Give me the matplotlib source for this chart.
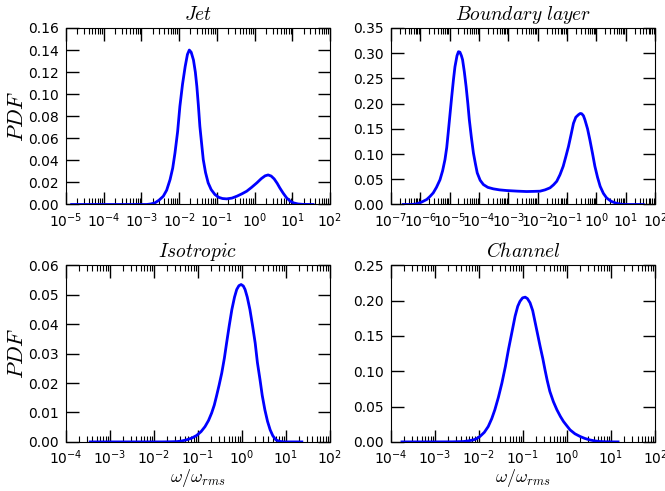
import numpy as np
import matplotlib
matplotlib.use('Agg')
import matplotlib.pyplot as plt
from matplotlib.ticker import LogLocator, FormatStrFormatter, MultipleLocator

# values (x given as log10 of omega/omega_rms)
jet_logx = [-4.85, -4.0, -3.5, -2.86, -2.75, -2.64, -2.53, -2.42, -2.33, -2.24,
            -2.17, -2.11, -2.04, -1.98, -1.91, -1.84, -1.78, -1.73, -1.68, -1.62,
            -1.57, -1.53, -1.49, -1.45, -1.40, -1.36, -1.30, -1.23, -1.15, -1.05,
            -0.95, -0.85, -0.74, -0.60, -0.47, -0.34, -0.21, -0.08, 0.06, 0.18,
            0.28, 0.36, 0.44, 0.52, 0.60, 0.67, 0.76, 0.85, 0.94, 1.03,
            1.15, 1.29, 1.55]
jet_pdf = [0.0, 0.0, 0.0, 0.0, 0.0005, 0.0015, 0.004, 0.0075, 0.013, 0.0226,
           0.033, 0.0467, 0.066, 0.0889, 0.109, 0.125, 0.136, 0.140, 0.138, 0.131,
           0.120, 0.107, 0.090, 0.0708, 0.054, 0.0407, 0.029, 0.0196, 0.0135, 0.009,
           0.0065, 0.0054, 0.0051, 0.0058, 0.0075, 0.0096, 0.012, 0.0155, 0.0196, 0.0235,
           0.026, 0.0268, 0.0258, 0.0232, 0.0192, 0.015, 0.0102, 0.006, 0.0032, 0.0015,
           0.0005, 0.0001, 0.0]

bl_logx = [-6.58, -6.3, -6.12, -5.95, -5.78, -5.67, -5.56, -5.45, -5.33, -5.24,
           -5.16, -5.10, -5.05, -4.99, -4.93, -4.87, -4.82, -4.75, -4.70, -4.65,
           -4.60, -4.56, -4.50, -4.44, -4.38, -4.33, -4.26, -4.19, -4.12, -4.06,
           -3.96, -3.85, -3.70, -3.51, -3.30, -3.06, -2.70, -2.38, -2.15, -1.92,
           -1.75, -1.58, -1.46, -1.35, -1.24, -1.13, -1.04, -0.95, -0.86, -0.78,
           -0.70, -0.61, -0.55, -0.50, -0.44, -0.39, -0.30, -0.22, -0.13, -0.05,
           0.04, 0.13, 0.24, 0.35, 0.50, 0.64, 0.78, 0.92, 1.60]
bl_pdf = [0.0, 0.0, 0.0013, 0.005, 0.010, 0.016, 0.023, 0.034, 0.049, 0.067,
          0.089, 0.113, 0.142, 0.178, 0.214, 0.248, 0.273, 0.295, 0.303, 0.302,
          0.295, 0.287, 0.263, 0.234, 0.200, 0.168, 0.133, 0.102, 0.080, 0.0626,
          0.048, 0.0395, 0.034, 0.031, 0.029, 0.0277, 0.0265, 0.0257, 0.026, 0.0264,
          0.029, 0.033, 0.039, 0.046, 0.059, 0.0758, 0.095, 0.115, 0.139, 0.161,
          0.173, 0.178, 0.1805, 0.180, 0.176, 0.168, 0.150, 0.128, 0.101, 0.0758,
          0.054, 0.036, 0.022, 0.013, 0.0065, 0.0033, 0.0012, 0.0, 0.0]

iso_logx = [-3.45, -2.5, -1.8, -1.6, -1.48, -1.37, -1.26, -1.14, -1.03, -0.93,
            -0.84, -0.76, -0.69, -0.63, -0.58, -0.52, -0.46, -0.40, -0.35, -0.29,
            -0.23, -0.17, -0.12, -0.07, -0.02, 0.03, 0.07, 0.12, 0.18, 0.24,
            0.30, 0.35, 0.41, 0.46, 0.52, 0.58, 0.64, 0.70, 0.77, 0.85,
            0.94, 1.36]
iso_pdf = [0.0, 0.0, 0.0, 0.00005, 0.0001, 0.0003, 0.0007, 0.0013, 0.0022, 0.0035,
           0.0052, 0.0073, 0.0098, 0.0125, 0.0155, 0.0193, 0.0234, 0.0285, 0.0336, 0.0395,
           0.045, 0.0492, 0.0518, 0.0531, 0.0535, 0.053, 0.0518, 0.0492, 0.045, 0.0395,
           0.0336, 0.027, 0.0211, 0.0158, 0.0109, 0.007, 0.0041, 0.0021, 0.0007, 0.0002,
           0.0, 0.0]

ch_logx = [-3.75, -3.0, -2.6, -2.36, -2.25, -2.13, -2.05, -1.98, -1.88, -1.79,
           -1.71, -1.64, -1.56, -1.48, -1.40, -1.33, -1.25, -1.18, -1.12, -1.07,
           -1.01, -0.95, -0.90, -0.84, -0.78, -0.73, -0.67, -0.61, -0.55, -0.50,
           -0.45, -0.39, -0.31, -0.23, -0.15, -0.08, 0.0, 0.07, 0.18, 0.30,
           0.41, 0.52, 0.63, 0.75, 0.90, 1.16]
ch_pdf = [0.0, 0.0, 0.0001, 0.0005, 0.0013, 0.0028, 0.0048, 0.0076, 0.0135, 0.0218,
          0.033, 0.0455, 0.063, 0.0833, 0.107, 0.131, 0.156, 0.178, 0.192, 0.199,
          0.204, 0.205, 0.203, 0.197, 0.186, 0.171, 0.153, 0.135, 0.118, 0.102,
          0.087, 0.0715, 0.057, 0.0455, 0.036, 0.0289, 0.0225, 0.017, 0.0115, 0.0076,
          0.0048, 0.0028, 0.0014, 0.0005, 0.0001, 0.0]

titles = ['$Jet$', '$Boundary\\ layer$', '$Isotropic$', '$Channel$']
xlims = [(1e-5, 1e2), (1e-7, 1e2), (1e-4, 1e2), (1e-4, 1e2)]
ylims = [(0, 0.16), (0, 0.35), (0, 0.06), (0, 0.25)]
ysteps = [0.02, 0.05, 0.01, 0.05]

curves = [(jet_logx, jet_pdf), (bl_logx, bl_pdf), (iso_logx, iso_pdf), (ch_logx, ch_pdf)]

plt.rcParams['font.size'] = 10
plt.rcParams['xtick.direction'] = 'in'
plt.rcParams['ytick.direction'] = 'in'
plt.rcParams['xtick.top'] = True
plt.rcParams['ytick.right'] = True

fig, axes = plt.subplots(2, 2, figsize=(6.65, 4.91), dpi=100)
fig.subplots_adjust(left=0.0992, right=0.985, top=0.943, bottom=0.1, wspace=0.231, hspace=0.345)

for i, ax in enumerate(axes.flat):
    lx, y = curves[i]
    ax.plot(10.0 ** np.array(lx), y, color='#0000ff', lw=2)
    ax.set_xscale('log')
    ax.set_xlim(*xlims[i])
    ax.set_ylim(*ylims[i])
    ax.xaxis.set_major_locator(LogLocator(base=10, numticks=20))
    ax.xaxis.set_minor_locator(LogLocator(base=10, subs=np.arange(2, 10), numticks=200))
    ax.yaxis.set_major_locator(MultipleLocator(ysteps[i]))
    ax.yaxis.set_major_formatter(FormatStrFormatter('%.2f'))
    ax.tick_params(which='major', length=9, width=1, pad=5)
    ax.tick_params(which='minor', length=4.5, width=0.8)
    ax.set_title(titles[i], fontsize=14, math_fontfamily='cm')
    if i % 2 == 0:
        ax.set_ylabel('$PDF$', fontsize=16, math_fontfamily='cm', labelpad=1)
    if i >= 2:
        ax.set_xlabel('$\\omega/\\omega_{rms}$', fontsize=13, math_fontfamily='cm', labelpad=0)

fig.savefig('out.png', dpi=100)
